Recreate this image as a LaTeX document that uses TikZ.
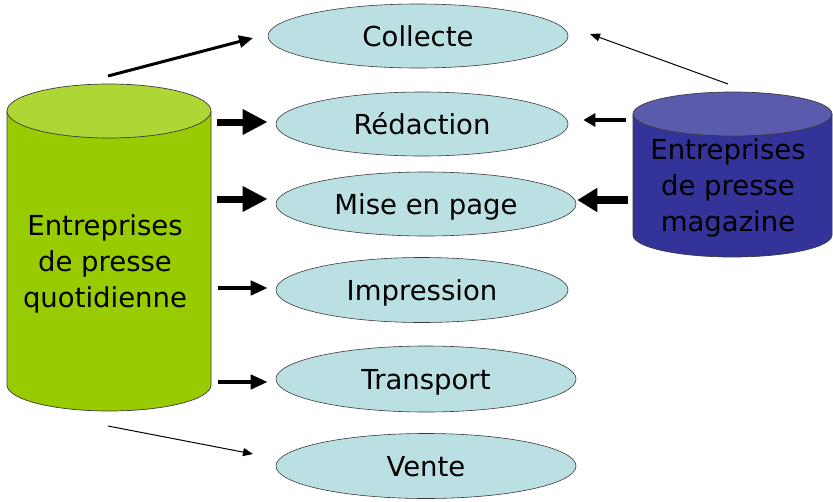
\documentclass[tikz,border=0pt]{standalone}
\usepackage{fontspec}
\setmainfont{DejaVu Sans}
\usetikzlibrary{shapes.geometric,arrows.meta}
\definecolor{ellfill}{HTML}{BBE0E3}
\definecolor{outl}{HTML}{3A3A3A}
\definecolor{gbody}{HTML}{99CC00}
\definecolor{gtop}{HTML}{AED735}
\definecolor{bbody}{HTML}{333399}
\definecolor{btop}{HTML}{5B5BAD}
\tikzset{
  proc/.style={ellipse, draw=outl, line width=0.6pt, fill=ellfill, inner sep=0pt,
    font=\fontsize{27.5}{33}\selectfont, text height=20pt, text depth=0pt},
  cyltext/.style={align=center, font=\fontsize{27.5}{36}\selectfont},
  cylline/.style={draw=outl, line width=0.7pt},
  heavy/.style={line width=7pt, -{Triangle[length=25pt,width=24pt]}},
  heavyR/.style={line width=8pt, -{Triangle[length=20pt,width=23pt]}},
  medium/.style={line width=4.5pt, -{Triangle[length=17pt,width=14pt]}},
  mediumR/.style={line width=3.5pt, -{Triangle[length=12pt,width=13pt]}},
  slant/.style={line width=3pt, -{Triangle[length=14pt,width=12pt]}},
  thin/.style={line width=1pt, -{Triangle[length=10pt,width=8pt]}}
}
\begin{document}
\begin{tikzpicture}[x=1pt,y=-1pt]
\useasboundingbox (0,0) rectangle (833,501);
% green cylinder
\fill[gbody] (7,111) -- (7,385) arc[start angle=180,end angle=0,x radius=102,y radius=26] -- (211,111) -- cycle;
\draw[cylline] (7,111) -- (7,385) arc[start angle=180,end angle=0,x radius=102,y radius=26] -- (211,111);
\filldraw[cylline, fill=gtop] (109,111) ellipse[x radius=102,y radius=27];
\node[cyltext] (gq) at (105,264) {Entreprises\\de presse\\quotidienne};
% blue cylinder
\fill[bbody] (633,114) -- (633,235) arc[start angle=180,end angle=0,x radius=99.5,y radius=22] -- (832,114) -- cycle;
\draw[cylline] (633,114) -- (633,235) arc[start angle=180,end angle=0,x radius=99.5,y radius=22] -- (832,114);
\filldraw[cylline, fill=btop] (732.5,114) ellipse[x radius=99.5,y radius=22];
\node[cyltext] (bm) at (728,188) {Entreprises\\de presse\\magazine};
% process ellipses
\node[proc, minimum width=300pt, minimum height=64pt] (col) at (418,36) {Collecte};
\node[proc, minimum width=292pt, minimum height=64pt] (red) at (422,124) {Rédaction};
\node[proc, minimum width=300pt, minimum height=64pt] (mep) at (426,204) {Mise en page};
\node[proc, minimum width=292pt, minimum height=65pt] (imp) at (422,290) {Impression};
\node[proc, minimum width=300pt, minimum height=66pt] (tra) at (426,379) {Transport};
\node[proc, minimum width=300pt, minimum height=65pt] (ven) at (426,466) {Vente};
% arrow ends
\coordinate (gC) at (108,76);
\coordinate (colL) at (253,38);
\coordinate (bC) at (728,84);
\coordinate (colR) at (590,34);
\coordinate (gR) at (217,122);
\coordinate (bR) at (626,120);
\coordinate (gM) at (217,199);
\coordinate (bM) at (628,200);
\coordinate (gI) at (218,288);
\coordinate (gT) at (218,382);
\coordinate (gV) at (108,426);
\coordinate (venL) at (253,454);
% arrows
\draw[slant] (gC) -- (colL);
\draw[thin] (bC) -- (colR);
\draw[heavy, shorten >=8pt] (gR) -- (gR -| red.west);
\draw[mediumR, shorten >=15pt] (bR) -- (bR -| red.east);
\draw[heavy, shorten >=8pt] (gM) -- (gM -| mep.west);
\draw[heavyR, shorten >=1pt] (bM) -- (bM -| mep.east);
\draw[medium, shorten >=8pt] (gI) -- (gI -| imp.west);
\draw[medium, shorten >=8pt] (gT) -- (gT -| tra.west);
\draw[thin] (gV) -- (venL);
\end{tikzpicture}
\end{document}
